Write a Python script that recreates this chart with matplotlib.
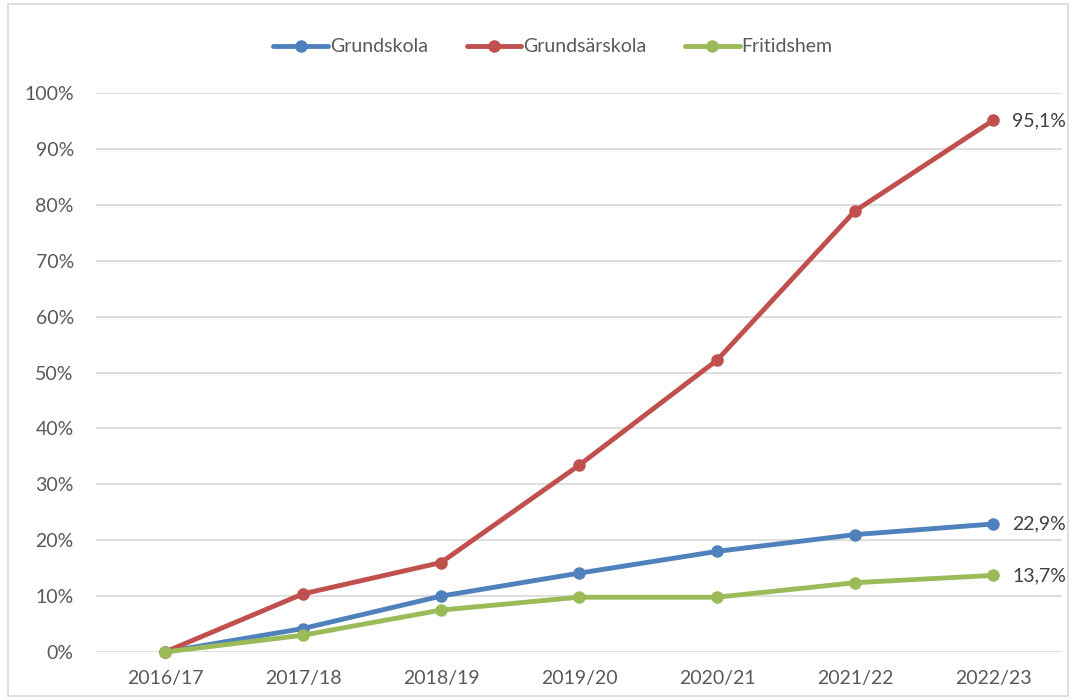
import matplotlib
matplotlib.use("Agg")
import matplotlib.pyplot as plt
from matplotlib.patches import Rectangle
from matplotlib.ticker import FuncFormatter

years = ["2016/17", "2017/18", "2018/19", "2019/20", "2020/21", "2021/22", "2022/23"]
grundskola = [0.0, 4.2, 10.0, 14.1, 18.0, 21.0, 22.9]
grundsarskola = [0.0, 10.4, 16.0, 33.4, 52.2, 78.9, 95.1]
fritidshem = [0.0, 3.0, 7.5, 9.8, 9.8, 12.4, 13.7]
series_names = ["Grundskola", "Grundsärskola", "Fritidshem"]
colors = ["#4F81BD", "#C0504D", "#9BBB59"]

plt.rcParams['font.family'] = ['Lato', 'DejaVu Sans']
text_color = "#595959"
fs = 14

fig = plt.figure(figsize=(10.76, 7.0), dpi=100)
ax = fig.add_axes([96/1076, 1 - 652/700, (1062-96)/1076, (652-93)/700])

x = list(range(len(years)))
for vals, name, c in zip([grundskola, grundsarskola, fritidshem], series_names, colors):
    ax.plot(x, vals, color=c, lw=3.5, marker='o', ms=8, label=name,
            solid_capstyle='round', zorder=3, clip_on=False)
    ax.annotate(f"{vals[-1]:.1f}%".replace('.', ','), (x[-1], vals[-1]),
                xytext=(14, 0), textcoords='offset points', va='center', ha='left',
                fontsize=fs, color="#404040")

ax.set_xlim(-0.5, len(years) - 0.5)
ax.set_ylim(0, 100)
ax.set_yticks(range(0, 101, 10))
ax.yaxis.set_major_formatter(FuncFormatter(lambda v, p: f"{int(v)}%"))
ax.set_xticks(x)
ax.set_xticklabels(years)
ax.grid(axis='y', color='#D9D9D9', lw=1.2, zorder=0)
for s in ax.spines.values():
    s.set_visible(False)
ax.tick_params(length=0, labelsize=fs, colors=text_color)
ax.tick_params(axis='y', pad=16)
ax.tick_params(axis='x', pad=13)

leg = fig.legend(loc='upper center', bbox_to_anchor=(553/1076, 1 - 21/700), ncol=3, frameon=False,
                 fontsize=fs, handlelength=2.8, columnspacing=2.0, handletextpad=0.1)
for t in leg.get_texts():
    t.set_color(text_color)

fig.patches.append(Rectangle((8/1076, 4/700), 1 - 16/1076, 1 - 8/700, transform=fig.transFigure,
                             fill=False, edgecolor='#D9D9D9', lw=1.2))

fig.savefig("out.png", dpi=100)
